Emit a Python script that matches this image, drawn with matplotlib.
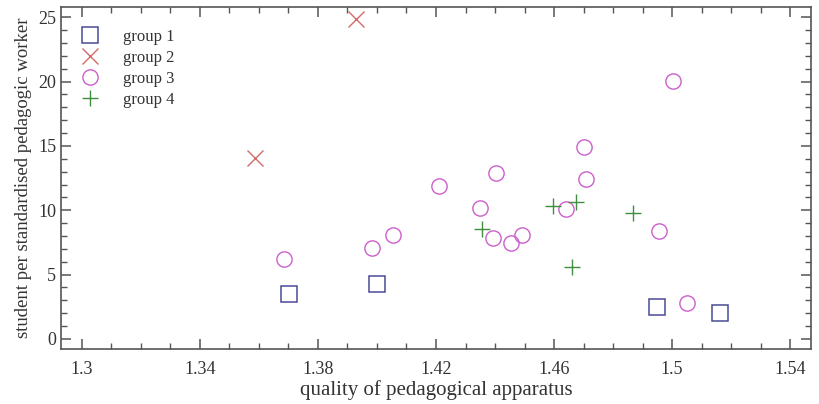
import matplotlib
matplotlib.rcParams['font.family'] = ['Liberation Serif', 'DejaVu Serif']

import matplotlib.pyplot as plt
from matplotlib.ticker import MultipleLocator

# group 1 (squares)
g1_x = [1.3701, 1.3999, 1.4949, 1.5161]
g1_y = [3.46, 4.30, 2.50, 1.99]

# group 2 (crosses)
g2_x = [1.3588, 1.3930]
g2_y = [14.1, 24.85]

# group 3 (circles)
g3_x = [1.3684, 1.3983, 1.4054, 1.4211, 1.4402, 1.4348, 1.4394, 1.4453,
        1.4492, 1.4639, 1.4707, 1.4702, 1.4955, 1.5052, 1.5004]
g3_y = [6.18, 7.10, 8.10, 11.86, 12.90, 10.20, 7.85, 7.47,
        8.06, 10.13, 12.45, 14.90, 8.40, 2.80, 20.05]

# group 4 (plus)
g4_x = [1.4357, 1.4597, 1.4676, 1.4662, 1.4868]
g4_y = [8.55, 10.33, 10.65, 5.56, 9.80]

fig = plt.figure(figsize=(8.2, 4.04), dpi=100)
ax = fig.add_axes([61 / 820, 1 - 349 / 404, 750 / 820, 342 / 404])

ax.plot(g1_x, g1_y, 's', ms=11, mfc='none', mec='#4a4a96', mew=1.1, label='group 1')
ax.plot(g2_x, g2_y, 'x', ms=12, mec='#d46a6a', mew=1.0, label='group 2')
ax.plot(g3_x, g3_y, 'o', ms=11, mfc='none', mec='#cc5fcc', mew=1.0, label='group 3')
ax.plot(g4_x, g4_y, '+', ms=12, mec='#3f8f3f', mew=1.0, label='group 4')

ax.set_xlim(1.2929, 1.5471)
ax.set_ylim(-0.78, 25.8)
ax.xaxis.set_minor_locator(MultipleLocator(0.01))
ax.yaxis.set_major_locator(MultipleLocator(5))
ax.yaxis.set_minor_locator(MultipleLocator(1))
ax.set_xticks([1.3, 1.34, 1.38, 1.42, 1.46, 1.5, 1.54])
ax.set_xticklabels(['1.3', '1.34', '1.38', '1.42', '1.46', '1.5', '1.54'])

for s in ax.spines.values():
    s.set_color('#555555')
    s.set_linewidth(1.2)
ax.tick_params(which='both', direction='in', top=True, right=True,
               colors='#555555', labelcolor='#333333', labelsize=13)
ax.tick_params(which='major', length=7, width=1.1)
ax.tick_params(which='minor', length=4, width=1.0)
ax.tick_params(axis='x', pad=9)

ax.set_xlabel('quality of pedagogical apparatus', fontsize=15, color='#333333', labelpad=1)
ax.set_ylabel('student per standardised pedagogic worker', fontsize=13.5, color='#333333', labelpad=4)

ax.legend(loc='upper left', frameon=False, fontsize=12, handletextpad=1.0,
          labelspacing=0.3, borderaxespad=0.0, bbox_to_anchor=(0.007, 0.955),
          labelcolor='#333333')

fig.savefig('out.png', dpi=100)
